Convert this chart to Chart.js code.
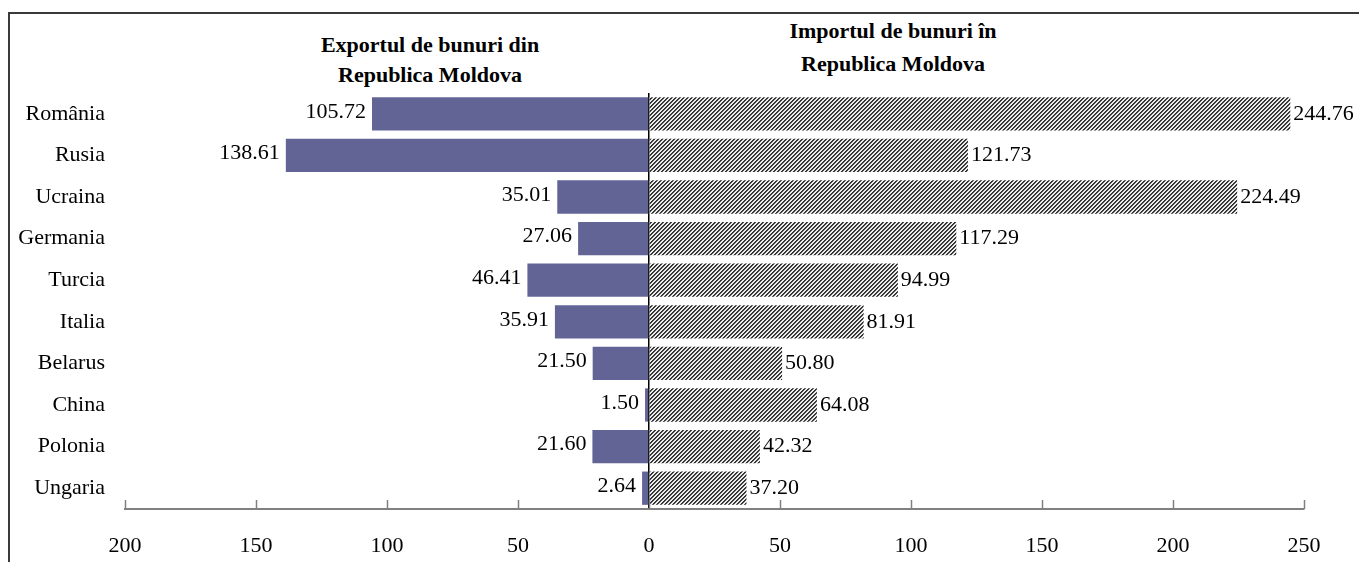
<!DOCTYPE html>
<html>
<head>
<meta charset="utf-8">
<script src="https://cdn.jsdelivr.net/npm/chart.js@4/dist/chart.umd.min.js"></script>
<style>
  html, body { margin: 0; padding: 0; background: #fff; overflow: hidden; }
  #wrap { position: relative; width: 1359px; height: 562px; }
  #frame {
    position: absolute; left: 8px; top: 12px; width: 1400px; height: 600px;
    border-top: 2px solid #3a3a3a; border-left: 2px solid #3a3a3a;
  }
  .head {
    position: absolute; font-family: 'Liberation Serif', 'Times New Roman', serif;
    font-weight: bold; font-size: 22px; line-height: 30px; text-align: center;
    color: #000; width: 320px;
  }
  #headExp { left: 270px; top: 30px; }
  #headImp { left: 733px; top: 14px; line-height: 33px; }
  #chart { position: absolute; left: 0; top: 0; width: 1359px; height: 562px; }
</style>
</head>
<body>
<div id="wrap">
  <div id="frame"></div>
  <div class="head" id="headExp">Exportul de bunuri din<br>Republica Moldova</div>
  <div class="head" id="headImp">Importul de bunuri în<br>Republica Moldova</div>
  <div id="chart"><canvas id="c"></canvas></div>
</div>
<script>
const countries = ['România', 'Rusia', 'Ucraina', 'Germania', 'Turcia', 'Italia', 'Belarus', 'China', 'Polonia', 'Ungaria'];
const exportValues = [105.72, 138.61, 35.01, 27.06, 46.41, 35.91, 21.50, 1.50, 21.60, 2.64];
const importValues = [244.76, 121.73, 224.49, 117.29, 94.99, 81.91, 50.80, 64.08, 42.32, 37.20];
const axisMin = -200;
const axisMax = 250;
const axisStep = 50;

const FONT = "'Liberation Serif', 'Times New Roman', serif";

// diagonal hatch like the old Excel "wide upward diagonal" fill
function makeHatch() {
  const tile = document.createElement('canvas');
  tile.width = 4;
  tile.height = 4;
  const t = tile.getContext('2d');
  t.fillStyle = '#ececec';
  t.fillRect(0, 0, 4, 4);
  for (let x = 0; x < 4; x++) {
    for (let y = 0; y < 4; y++) {
      const k = (x + y) % 4;
      if (k === 0 || k === 1) {
        t.fillStyle = k === 0 ? '#2e2e2e' : '#444';
        t.fillRect(x, y, 1, 1);
      }
    }
  }
  return document.getElementById('c').getContext('2d').createPattern(tile, 'repeat');
}

// value labels next to each bar end
const barLabels = {
  id: 'barLabels',
  afterDatasetsDraw(chart) {
    const ctx = chart.ctx;
    ctx.save();
    ctx.font = `22px ${FONT}`;
    ctx.fillStyle = '#000';
    ctx.textBaseline = 'middle';
    chart.data.datasets.forEach((ds, di) => {
      const meta = chart.getDatasetMeta(di);
      meta.data.forEach((bar, i) => {
        const v = Math.abs(ds.data[i]).toFixed(2);
        if (ds.data[i] < 0) {
          ctx.textAlign = 'right';
          ctx.fillText(v, bar.x - 6, bar.y - 2);
        } else {
          ctx.textAlign = 'left';
          ctx.fillText(v, bar.x + 3, bar.y);
        }
      });
    });
    ctx.restore();
  },
};

// short tick marks pointing up from the value axis
const innerTicks = {
  id: 'innerTicks',
  afterDraw(chart) {
    const sx = chart.scales.x;
    const ctx = chart.ctx;
    ctx.save();
    ctx.strokeStyle = '#808080';
    ctx.lineWidth = 1.5;
    sx.ticks.forEach(t => {
      const px = Math.round(sx.getPixelForValue(t.value)) + 0.5;
      ctx.beginPath();
      ctx.moveTo(px, sx.top - 9);
      ctx.lineTo(px, sx.top);
      ctx.stroke();
    });
    ctx.restore();
  },
};

new Chart(document.getElementById('c'), {
  type: 'bar',
  data: {
    labels: countries,
    datasets: [
      {
        label: 'Export',
        data: exportValues.map(v => -v),
        backgroundColor: '#636496',
        borderWidth: 0,
        barPercentage: 0.8,
        categoryPercentage: 1,
      },
      {
        label: 'Import',
        data: importValues,
        backgroundColor: makeHatch(),
        borderWidth: 0,
        barPercentage: 0.8,
        categoryPercentage: 1,
      },
    ],
  },
  options: {
    indexAxis: 'y',
    responsive: true,
    maintainAspectRatio: false,
    animation: false,
    layout: { padding: { top: 93, right: 55, left: 0, bottom: 0 } },
    plugins: {
      legend: { display: false },
      tooltip: { enabled: false },
    },
    scales: {
      x: {
        stacked: true,
        min: axisMin,
        max: axisMax,
        afterFit: (s) => { s.height = 53; },
        border: { display: true, color: '#808080', width: 2 },
        grid: {
          drawTicks: false,
          color: (c) => (c.tick && c.tick.value === 0 ? '#000' : 'rgba(0,0,0,0)'),
          lineWidth: 1.5,
        },
        ticks: {
          stepSize: axisStep,
          padding: 24,
          color: '#000',
          font: { family: FONT, size: 22 },
          maxRotation: 0,
          callback: (v) => Math.abs(v),
        },
      },
      y: {
        stacked: true,
        afterFit: (s) => { s.width = 125; },
        border: { display: false },
        grid: { display: false, drawTicks: false },
        ticks: {
          padding: 20,
          color: '#000',
          font: { family: FONT, size: 22 },
        },
      },
    },
  },
  plugins: [barLabels, innerTicks],
});
</script>
</body>
</html>
